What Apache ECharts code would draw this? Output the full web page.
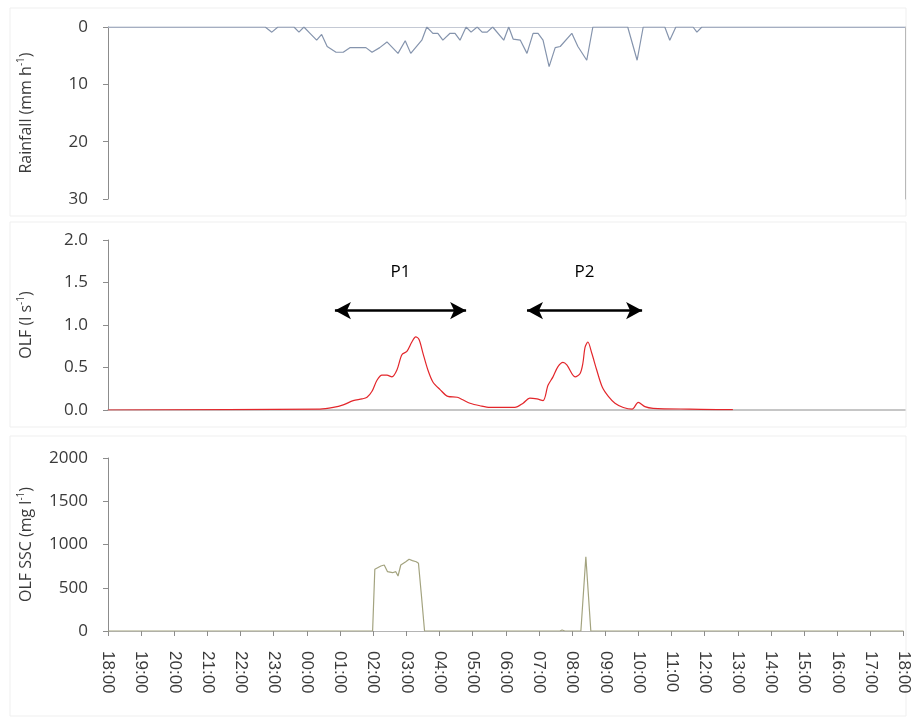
<!DOCTYPE html>
<html>
<head>
<meta charset="utf-8">
<script src="https://cdn.jsdelivr.net/npm/echarts@6/dist/echarts.min.js"></script>
<style>
html,body{margin:0;padding:0;background:#fff;}
#chart{width:912px;height:723px;}
</style>
</head>
<body>
<div id="chart"></div>
<script>
// ---- Data (times as clock HH:MM, from 18:00 day 1 to 18:00 day 2) ----
var hourTicks = ["18:00","19:00","20:00","21:00","22:00","23:00","00:00","01:00","02:00","03:00","04:00","05:00","06:00","07:00","08:00","09:00","10:00","11:00","12:00","13:00","14:00","15:00","16:00","17:00","18:00"];

var rainTimes = ["18:00","22:44","22:56","23:07","23:36","23:45","23:54","00:05","00:17","00:26","00:36","00:52","01:05","01:17","01:46","01:57","02:11","02:24","02:44","02:57","03:07","03:27","03:36","03:47","03:56","04:05","04:18","04:27","04:36","04:47","04:56","05:07","05:16","05:25","05:35","05:55","06:04","06:12","06:25","06:37","06:48","06:57","07:06","07:17","07:28","07:37","07:58","08:09","08:25","08:36","09:39","09:56","10:07","10:46","10:55","11:06","11:37","11:44","11:53","18:00"];
var rainValues = [0,0,0.9,0,0,0.9,0,1.1,2.3,1.3,3.4,4.4,4.4,3.6,3.6,4.4,3.6,2.6,4.6,2.4,4.6,2.3,0,1.1,1.1,2.3,1.1,1.1,2.3,0,0.9,0,0.9,0.9,0,2.3,0,2.1,2.3,4.6,1.1,1.1,2.3,6.9,3.6,3.4,1.1,3.4,5.8,0,0,5.8,0,0,2.3,0,0,0.9,0,0];

var olfTimes = ["18:00","00:23","00:47","01:05","01:23","01:39","01:48","01:57","02:06","02:15","02:24","02:33","02:42","02:51","03:00","03:09","03:16","03:22","03:29","03:38","03:47","04:00","04:14","04:31","04:41","04:54","05:12","05:30","06:15","06:30","06:42","06:55","07:06","07:15","07:24","07:33","07:42","07:49","08:04","08:13","08:18","08:22","08:27","08:34","08:43","08:53","09:04","09:16","09:31","09:47","09:58","10:10","10:25","11:31","12:31","12:49"];
var olfValues = [0,0.01,0.03,0.06,0.11,0.13,0.15,0.22,0.35,0.41,0.41,0.39,0.47,0.65,0.69,0.80,0.86,0.83,0.67,0.47,0.33,0.24,0.16,0.15,0.12,0.08,0.05,0.03,0.03,0.08,0.14,0.13,0.11,0.29,0.39,0.51,0.56,0.53,0.39,0.43,0.55,0.74,0.80,0.67,0.47,0.27,0.16,0.08,0.03,0.01,0.09,0.04,0.02,0.01,0.005,0.005];

var sscTimes = ["18:00","01:59","02:03","02:14","02:20","02:26","02:35","02:41","02:45","02:50","02:59","03:05","03:11","03:18","03:22","03:27","03:33","07:38","07:42","07:47","08:16","08:25","08:34","18:00"];
var sscValues = [0,0,713,751,763,686,674,686,636,763,801,829,813,801,783,436,0,0,12,0,0,859,0,0];

// Event periods (P1, P2) in clock time, drawn at OLF level
var periodNames = ["P1","P2"];
var periodStart = ["00:50","06:37"];
var periodEnd = ["04:47","10:05"];
var periodArrowLevel = 1.17;
var periodLabelLevel = 1.62;

// ---- helpers ----
function toHoursSeq(times){
  var out = [], prev = -1;
  for (var i=0;i<times.length;i++){
    var p = times[i].split(":");
    var h = (+p[0]) + (+p[1])/60 - 18;
    if (h < 0) h += 24;
    while (h < prev) h += 24;
    out.push(h); prev = h;
  }
  return out;
}
function pairs(times, vals){
  var hs = toHoursSeq(times);
  return hs.map(function(h,i){ return [h, vals[i]]; });
}
function one(t){
  var p = t.split(":"); var h = (+p[0]) + (+p[1])/60 - 18; if (h<0) h+=24; return h;
}

var txt = '#3a3a3a';
var axisGray = '#8c8c8c';
var yFont = {fontFamily:'Open Sans', fontSize:17, color:txt};
var nameRich = {
  n:{fontFamily:'Open Sans', fontSize:16, color:txt, lineHeight:20},
  s:{fontFamily:'Open Sans', fontSize:10, color:txt, lineHeight:20, padding:[0,0,9,0]}
};

var markArrows = periodNames.map(function(n,i){
  return [{coord:[one(periodStart[i]), periodArrowLevel]},{coord:[one(periodEnd[i]), periodArrowLevel]}];
});
var markLabels = periodNames.map(function(n,i){
  return {coord:[(one(periodStart[i])+one(periodEnd[i]))/2, periodLabelLevel], value:n};
});

var chart = echarts.init(document.getElementById('chart'), null, {renderer:'canvas'});
var GL = 108, GR = 7;
var option = {
  animation:false,
  backgroundColor:'#ffffff',
  graphic:[
    {type:'rect', shape:{x:10,y:8,width:896,height:208}, style:{fill:'none', stroke:'#efefef', lineWidth:1}, silent:true},
    {type:'rect', shape:{x:10,y:222,width:896,height:205}, style:{fill:'none', stroke:'#efefef', lineWidth:1}, silent:true},
    {type:'rect', shape:{x:10,y:436,width:896,height:280}, style:{fill:'none', stroke:'#efefef', lineWidth:1}, silent:true}
  ],
  grid:[
    {left:GL, right:GR, top:27, height:172},
    {left:GL, right:GR, top:240, height:170},
    {left:GL, right:GR, top:458, height:173}
  ],
  xAxis:[
    {gridIndex:0, type:'value', position:'top', min:0, max:24, interval:1,
     axisLine:{show:true, onZero:false, lineStyle:{color:'#c4c9d4'}}, axisTick:{show:false}, axisLabel:{show:false}, splitLine:{show:false}},
    {gridIndex:1, type:'value', min:0, max:24, interval:1,
     axisLine:{show:true, onZero:false, lineStyle:{color:'#b4b4b4', width:1.5}}, axisTick:{show:false}, axisLabel:{show:false}, splitLine:{show:false}},
    {gridIndex:2, type:'value', min:0, max:24, interval:1,
     axisLine:{show:true, onZero:false, lineStyle:{color:'#b4b4b4'}},
     axisTick:{show:true, length:5, lineStyle:{color:axisGray}},
     axisLabel:{show:true, rotate:-90, margin:20, fontFamily:'Liberation Sans', fontSize:17, color:txt,
       formatter:function(v){ return hourTicks[Math.round(v)] || ''; }},
     splitLine:{show:false}}
  ],
  yAxis:[
    {gridIndex:0, type:'value', inverse:true, min:0, max:30, interval:10,
     axisLine:{show:true, lineStyle:{color:axisGray}}, axisTick:{show:true, length:5, lineStyle:{color:axisGray}},
     axisLabel:Object.assign({margin:20, formatter:function(v){return String(v);}}, yFont), splitLine:{show:false},
     name:'{n|Rainfall (mm h}{s|-1}{n|)}', nameLocation:'middle', nameRotate:90, nameGap:72,
     nameTextStyle:{rich:nameRich}},
    {gridIndex:0, type:'value', inverse:true, min:0, max:30, interval:10, position:'right',
     axisLine:{show:true, lineStyle:{color:'#b8b8b8'}}, axisTick:{show:false}, axisLabel:{show:false}, splitLine:{show:false}},
    {gridIndex:1, type:'value', min:0, max:2, interval:0.5,
     axisLine:{show:true, lineStyle:{color:axisGray}}, axisTick:{show:true, length:5, lineStyle:{color:axisGray}},
     axisLabel:Object.assign({margin:20, formatter:function(v){return v.toFixed(1);}}, yFont), splitLine:{show:false},
     name:'{n|OLF (l s}{s|-1}{n|)}', nameLocation:'middle', nameRotate:90, nameGap:72,
     nameTextStyle:{rich:nameRich}},
    {gridIndex:2, type:'value', min:0, max:2000, interval:500,
     axisLine:{show:true, lineStyle:{color:axisGray}}, axisTick:{show:true, length:5, lineStyle:{color:axisGray}},
     axisLabel:Object.assign({margin:20, formatter:function(v){return String(v);}}, yFont), splitLine:{show:false},
     name:'{n|OLF SSC (mg l}{s|-1}{n|)}', nameLocation:'middle', nameRotate:90, nameGap:72,
     nameTextStyle:{rich:nameRich}}
  ],
  series:[
    {type:'line', xAxisIndex:0, yAxisIndex:0, data:pairs(rainTimes, rainValues), showSymbol:false,
     lineStyle:{color:'#8594ad', width:1.2}, z:5},
    {type:'line', xAxisIndex:1, yAxisIndex:2, data:pairs(olfTimes, olfValues), showSymbol:false, smooth:0.3,
     lineStyle:{color:'#e3262b', width:1.2}, z:5,
     markLine:{silent:true, symbol:['arrow','arrow'], symbolSize:[13,16], animation:false,
       lineStyle:{color:'#000', width:2.5, type:'solid'}, label:{show:false}, data:markArrows},
     markPoint:{silent:true, symbol:'circle', symbolSize:1, itemStyle:{color:'rgba(0,0,0,0)'},
       label:{show:true, position:'inside', color:'#000', fontFamily:'Open Sans', fontSize:17, formatter:function(p){return p.value;}},
       data:markLabels}},
    {type:'line', xAxisIndex:2, yAxisIndex:3, data:pairs(sscTimes, sscValues), showSymbol:false,
     lineStyle:{color:'#a3a37f', width:1.2}, z:5}
  ]
};
chart.setOption(option);
</script>
</body>
</html>
